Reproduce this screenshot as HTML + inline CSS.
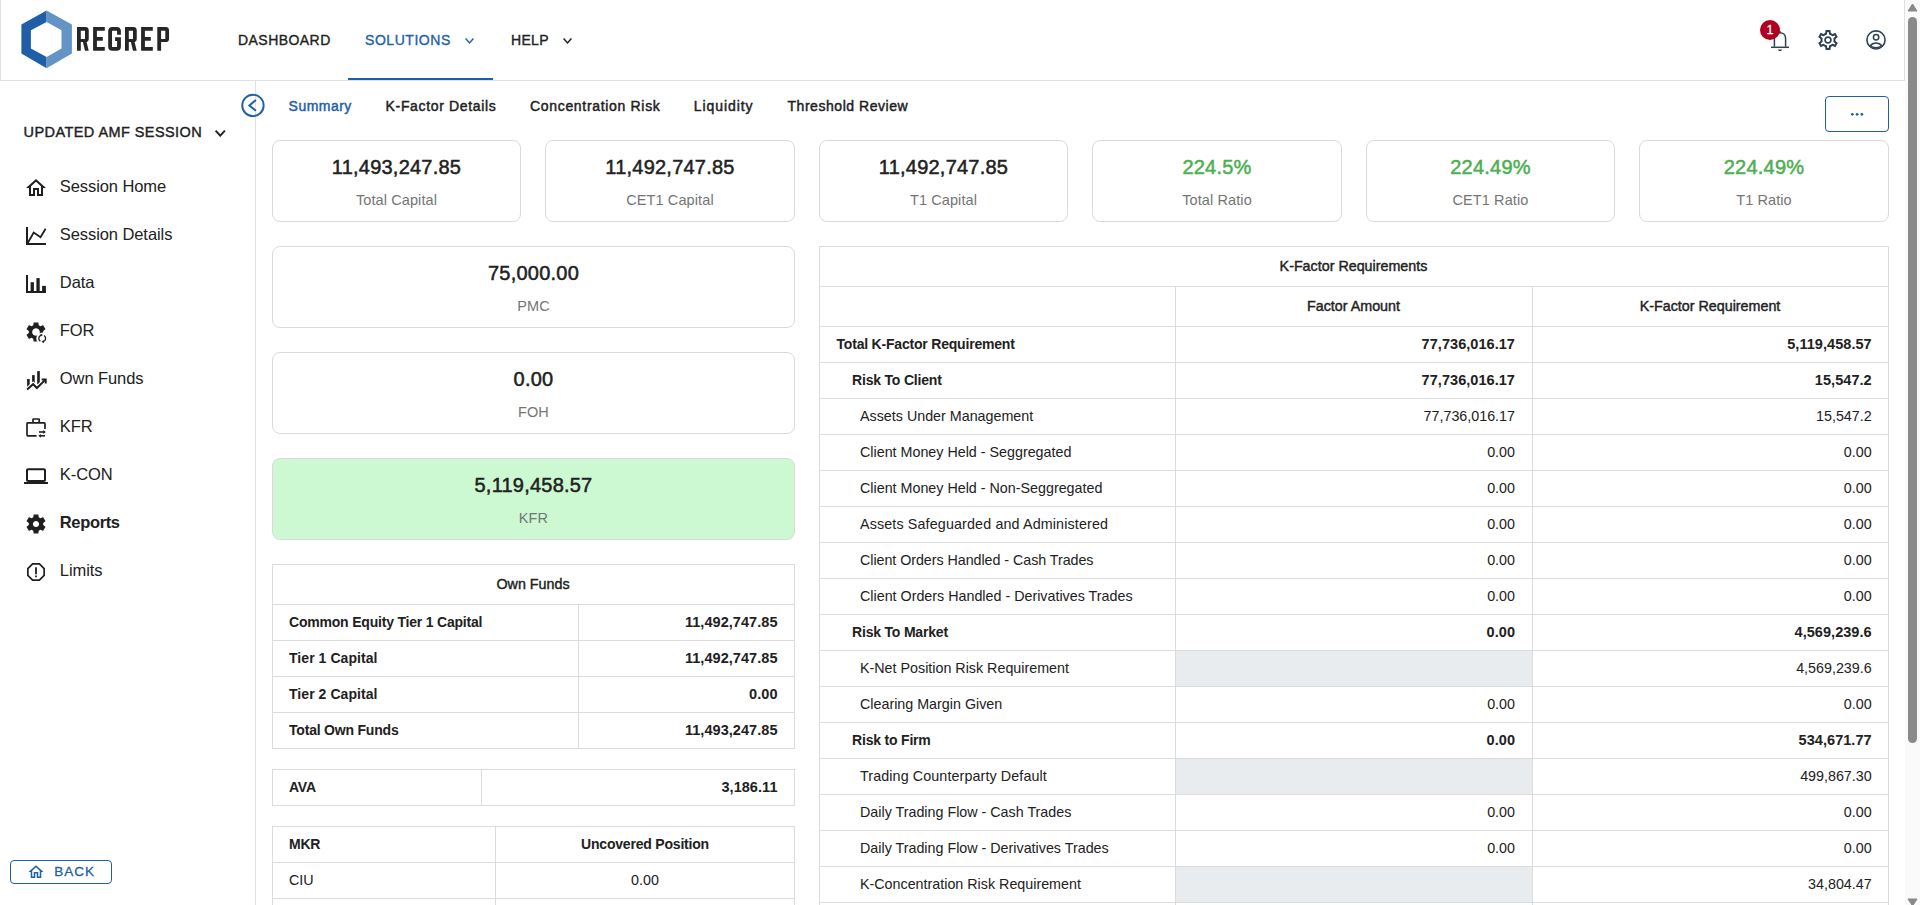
<!DOCTYPE html>
<html><head><meta charset="utf-8"><title>RegRep</title>
<style>
*{box-sizing:border-box;margin:0;padding:0}
html,body{width:1920px;height:905px;overflow:hidden;background:#fff;font-family:"Liberation Sans", sans-serif;color:#212121}
.abs{position:absolute}
.t{position:absolute;white-space:nowrap;line-height:1}
.hdr{position:absolute;left:0;top:0;width:1905px;height:81px;border:1px solid #e0e0e0;border-top:none;background:#fff}
.nav{font-size:14px;letter-spacing:0.45px;-webkit-text-stroke:0.35px currentColor}
.side{font-size:16.5px;letter-spacing:-0.08px}
.tab{font-size:14px;-webkit-text-stroke:0.45px currentColor}
.card{position:absolute;border:1px solid #dadada;border-radius:8px;background:#fff}
.cv{position:absolute;left:0;right:0;text-align:center;font-size:20px;letter-spacing:0.22px;line-height:1;-webkit-text-stroke:0.5px currentColor}
.cl{position:absolute;left:0;right:0;text-align:center;font-size:14.5px;letter-spacing:0.1px;color:#757575;line-height:1}
.tbl{position:absolute;border:1px solid #dcdcdc;}
.row{position:absolute;left:0;right:0;border-top:1px solid #dcdcdc}
.cell{position:absolute;top:0;bottom:0;font-size:14px;line-height:1;white-space:nowrap}
.vl{position:absolute;top:0;bottom:0;width:1px;background:#dcdcdc}
.b{font-weight:bold;font-size:14px;letter-spacing:-0.2px}
.r{font-size:14.3px}
.bn{font-weight:bold;font-size:14.5px;letter-spacing:0.05px}
.m{font-size:14.3px;-webkit-text-stroke:0.4px #212121}
</style></head><body>

<div class="hdr"></div>
<svg class="abs" style="left:0;top:0" width="200" height="80" viewBox="0 0 200 80">
<polygon points="46.6,10.4 46.6,21.9 30.9,30.2 30.9,48.4 46.6,57.1 46.6,68.2 21.4,53.6 21.4,24.5" fill="#1f5fa8"/>
<polygon points="46.6,10.4 71.9,24.5 71.9,53.6 46.6,68.2 46.6,57.1 61.5,48.4 61.5,30.2 46.6,21.9" fill="#6494c6"/>
<g fill="#262626"><path fill-rule="evenodd" d="M77,27.05 H85.3 Q88.75,27.05 88.75,30.5 V38.7 Q88.75,42.1 85.3,42.1 H80.8 V50.7 H77 Z M80.8,30.8 V38.9 H85.0 V30.8 Z"/><polygon points="82.9,42 86.6,42 88.75,50.7 85.0,50.7"/><path d="M93.1,27.05 H104.8 V30.8 H96.9 V37.1 H102.8 V40.7 H96.9 V46.9 H104.8 V50.7 H93.1 Z"/><path d="M119,34.8 V31.3 Q119,28.95 116.6,28.95 H112.5 Q110.1,28.95 110.1,31.3 V46.4 Q110.1,48.8 112.5,48.8 H116.6 Q119,48.8 119,46.4 V39.2 H115.1" fill="none" stroke="#262626" stroke-width="3.8"/><path fill-rule="evenodd" d="M125,27.05 H133.3 Q136.75,27.05 136.75,30.5 V38.7 Q136.75,42.1 133.3,42.1 H128.8 V50.7 H125 Z M128.8,30.8 V38.9 H133.0 V30.8 Z"/><polygon points="130.9,42 134.6,42 136.75,50.7 133.0,50.7"/><path d="M141.1,27.05 H152.8 V30.8 H144.9 V37.1 H150.8 V40.7 H144.9 V46.9 H152.8 V50.7 H141.1 Z"/><path fill-rule="evenodd" d="M157.3,27.05 H165.6 Q169.05,27.05 169.05,30.5 V38.7 Q169.05,42.1 165.6,42.1 H161.1 V50.7 H157.3 Z M161.1,30.8 V38.9 H165.3 V30.8 Z"/></g>
</svg>
<div class="t nav" style="left:238px;top:33.05px;color:#212121">DASHBOARD</div>
<div class="t nav" style="left:365px;top:33.05px;color:#1e5fa9;letter-spacing:0.55px">SOLUTIONS</div>
<svg class="abs" style="left:464.2px;top:37.4px" width="11" height="7.6" viewBox="-1 -1 11 7.6"><polyline points="0.6,0.6 4.5,5.0 8.4,0.6" fill="none" stroke="#1e5fa9" stroke-width="1.5"/></svg>
<div class="t nav" style="left:511px;top:33.05px;color:#212121;letter-spacing:0.3px">HELP</div>
<svg class="abs" style="left:562.4px;top:37.4px" width="11" height="7.6" viewBox="-1 -1 11 7.6"><polyline points="0.6,0.6 4.5,5.0 8.4,0.6" fill="none" stroke="#212121" stroke-width="1.5"/></svg>
<div class="abs" style="left:348px;top:78px;width:145px;height:2px;background:#1e5fa9"></div>
<svg class="abs" style="left:1768px;top:28px" width="24" height="26" viewBox="0 0 24 26">
<path d="M6.4,18.8 V10.6 C6.4,7.2 8.8,4.7 12,4.7 C15.2,4.7 17.6,7.2 17.6,10.6 V18.8" fill="none" stroke="#2e4152" stroke-width="1.5"/>
<line x1="3" y1="19.3" x2="21" y2="19.3" stroke="#2e4152" stroke-width="1.5"/>
<path d="M10,21.4 H14 C13.8,22.6 13,23.1 12,23.1 C11,23.1 10.2,22.6 10,21.4 Z" fill="#2e4152"/>
<path d="M11,4.8 C11,3.6 11.5,2.8 12,2.8 C12.5,2.8 13,3.6 13,4.8 Z" fill="#2e4152"/>
</svg>
<div class="abs" style="left:1760px;top:20px;width:20px;height:20px;border-radius:50%;background:#b0001f"></div>
<div class="t" style="left:1760px;top:24.3px;width:20px;text-align:center;font-size:12.5px;color:#fff;-webkit-text-stroke:0.3px #fff">1</div>
<svg class="abs" style="left:1816px;top:28px" width="24" height="24" viewBox="0 0 24 24"><path fill-rule="evenodd" d="M19.43 12.98c.04-.32.07-.64.07-.98 0-.34-.03-.66-.07-.98l2.11-1.65c.19-.15.24-.42.12-.64l-2-3.46c-.09-.16-.26-.25-.44-.25-.06 0-.12.01-.17.03l-2.49 1c-.52-.4-1.08-.73-1.69-.98l-.38-2.65C14.46 2.18 14.25 2 14 2h-4c-.25 0-.46.18-.49.42l-.38 2.65c-.61.25-1.17.59-1.690.98l-2.49-1c-.06-.02-.12-.03-.18-.03-.17 0-.34.09-.43.25l-2 3.46c-.13.22-.07.49.12.64l2.11 1.65c-.04.32-.07.65-.07.98 0 .33.03.66.07.98l-2.11 1.65c-.19.15-.24.42-.12.64l2 3.46c.09.16.26.25.44.25.06 0 .12-.01.17-.03l2.49-1c.52.4 1.080.73 1.69.98l.38 2.65c.03.24.24.42.49.42h4c.25 0 .46-.18.49-.42l.38-2.65c.61-.25 1.17-.59 1.69-.98l2.49 1c.06.02.12.03.18.03.17 0 .34-.09.43-.25l2-3.46c.12-.22.07-.49-.12-.64l-2.11-1.65zm-1.98-1.71c.04.31.05.52.05.73 0 .21-.02.43-.05.73l-.14 1.13.89.7 1.08.84-.7 1.21-1.27-.51-1.04-.42-.9.68c-.43.32-.84.56-1.25.73l-1.06.43-.16 1.13-.2 1.35h-1.4l-.19-1.35-.16-1.13-1.06-.43c-.43-.18-.83-.41-1.23-.71l-.91-.7-1.06.43-1.27.51-.7-1.21 1.08-.84.89-.7-.14-1.13c-.03-.31-.05-.54-.05-.74s.02-.43.05-.73l.14-1.13-.89-.7-1.08-.84.7-1.21 1.27.51 1.04.42.9-.68c.43-.32.84-.56 1.25-.73l1.06-.43.16-1.13.2-1.35h1.39l.19 1.35.16 1.13 1.06.43c.43.18.83.41 1.23.71l.91.7 1.06-.43 1.27-.51.7 1.21-1.07.85-.89.7.14 1.13zM12 8.2c-2.1 0-3.8 1.7-3.8 3.8s1.7 3.8 3.8 3.8 3.8-1.7 3.8-3.8-1.7-3.8-3.8-3.8zm0 5.9c-1.16 0-2.1-.94-2.1-2.1s.94-2.1 2.1-2.1 2.1.94 2.1 2.1-.94 2.1-2.1 2.1z" fill="#2e4152"/></svg>
<svg class="abs" style="left:1864px;top:28px" width="24" height="24" viewBox="0 0 24 24" fill="none" stroke="#2e4152">
<circle cx="12" cy="11.9" r="9.05" stroke-width="1.6"/>
<circle cx="12.1" cy="9.3" r="2.7" stroke-width="1.5"/>
<path d="M6.2,17.8 C7.6,15.9 9.7,14.95 12,14.95 C14.3,14.95 16.4,15.9 17.8,17.8" stroke-width="1.5"/>
<path d="M6.5,17.6 C8.6,20.2 15.4,20.2 17.5,17.6" stroke-width="1.3"/>
</svg>
<div class="abs" style="left:1905px;top:0;width:15px;height:905px;background:#fafafa"></div>
<div class="abs" style="left:1908px;top:17px;width:9px;height:726px;border-radius:4.5px;background:#8a8a8a"></div>
<svg class="abs" style="left:1905px;top:0" width="15" height="15" viewBox="0 0 15 15"><polygon points="7.5,4 12,11 3,11" fill="#8a8a8a" stroke="#8a8a8a" stroke-width="1" stroke-linejoin="round"/></svg>
<svg class="abs" style="left:1905px;top:894px" width="15" height="15" viewBox="0 0 15 15"><polygon points="3,5 12,5 7.5,12" fill="#8a8a8a" stroke="#8a8a8a" stroke-width="1" stroke-linejoin="round"/></svg>
<div class="abs" style="left:255px;top:81px;width:1px;height:824px;background:#e0e0e0"></div>
<div class="t" style="left:23.6px;top:125.1px;font-size:14.5px;letter-spacing:0.42px;-webkit-text-stroke:0.4px #212121">UPDATED AMF SESSION</div>
<svg class="abs" style="left:214.2px;top:129.2px" width="12.5" height="8.3" viewBox="-1 -1 12.5 8.3"><polyline points="0.6,0.6 5.25,5.7 9.9,0.6" fill="none" stroke="#212121" stroke-width="1.9"/></svg>
<div class="t side" style="left:59.8px;top:178.1px;">Session Home</div>
<div class="t side" style="left:59.8px;top:226.1px;">Session Details</div>
<div class="t side" style="left:59.8px;top:274.1px;">Data</div>
<div class="t side" style="left:59.8px;top:322.1px;">FOR</div>
<div class="t side" style="left:59.8px;top:370.1px;">Own Funds</div>
<div class="t side" style="left:59.8px;top:418.1px;">KFR</div>
<div class="t side" style="left:59.8px;top:466.1px;">K-CON</div>
<div class="t side" style="left:59.8px;top:514.1px;font-weight:bold;letter-spacing:-0.35px;">Reports</div>
<div class="t side" style="left:59.8px;top:562.1px;">Limits</div>
<svg class="abs" style="left:24px;top:176px" width="24" height="24" viewBox="0 0 24 24"><path d="M12 5.69l5 4.5V18h-2v-6H9v6H7v-7.81l5-4.5M12 3L2 12h3v8h6v-6h2v6h6v-8h3L12 3z" fill="#1f1f1f"/></svg>
<svg class="abs" style="left:24px;top:224px" width="24" height="24" viewBox="0 0 24 24"><path d="M3,3 V20 H22" fill="none" stroke="#1f1f1f" stroke-width="2"/><polyline points="3.6,19.3 9.7,8.6 16.5,13.3 21.6,4.8" fill="none" stroke="#1f1f1f" stroke-width="1.8" stroke-linejoin="miter"/></svg>
<svg class="abs" style="left:24px;top:272px" width="24" height="24" viewBox="0 0 24 24"><path d="M3,3 V20 H22" fill="none" stroke="#1f1f1f" stroke-width="2"/><rect x="6.6" y="10.2" width="3.3" height="9" fill="#1f1f1f"/><rect x="12.4" y="6.1" width="3.3" height="13" fill="#1f1f1f"/><rect x="18.1" y="13.9" width="3.8" height="5.2" fill="#1f1f1f"/></svg>
<svg class="abs" style="left:24px;top:320px" width="24" height="24" viewBox="0 0 24 24"><path fill-rule="evenodd" d="M19.14 12.94c.04-.3.06-.61.06-.94 0-.32-.02-.64-.07-.94l2.03-1.58c.18-.14.23-.41.12-.61l-1.92-3.32c-.12-.22-.37-.29-.59-.22l-2.39.96c-.5-.38-1.03-.7-1.62-.94l-.36-2.54c-.04-.24-.24-.41-.48-.41h-3.84c-.24 0-.43.17-.47.41l-.36 2.54c-.59.24-1.13.57-1.62.94l-2.39-.96c-.22-.08-.47 0-.59.22L2.74 8.87c-.12.21-.08.47.12.61l2.03 1.58c-.05.3-.09.63-.09.94s.02.64.07.94l-2.03 1.58c-.18.14-.23.41-.12.61l1.92 3.32c.12.22.37.29.59.22l2.39-.96c.5.38 1.03.7 1.62.94l.36 2.54c.05.24.24.41.48.41h3.84c.24 0 .44-.17.47-.41l.36-2.54c.59-.24 1.13-.56 1.62-.94l2.39.96c.22.08.47 0 .59-.22l1.92-3.32c.12-.22.07-.47-.12-.61l-2.01-1.58zM12 15.6c-1.98 0-3.6-1.62-3.6-3.6s1.62-3.6 3.6-3.6 3.6 1.62 3.6 3.6-1.62 3.6-3.6 3.6z" fill="#1f1f1f"/><circle cx="18.2" cy="18.4" r="5.9" fill="#fff"/><circle cx="12" cy="12" r="3.6" fill="#fff"/><path d="M17.2,15.1 A3.5,3.5 0 0 0 16.3,21.3" fill="none" stroke="#1f1f1f" stroke-width="1.35"/><path d="M19.2,21.7 A3.5,3.5 0 0 0 20.1,15.5" fill="none" stroke="#1f1f1f" stroke-width="1.35"/><polygon points="16.6,13.6 18.9,15.1 16.6,16.7" fill="#1f1f1f"/><polygon points="19.8,23.2 17.5,21.7 19.8,20.1" fill="#1f1f1f"/></svg>
<svg class="abs" style="left:24px;top:368px" width="24" height="24" viewBox="0 0 24 24"><rect x="3.1" y="11" width="2.6" height="8" fill="#1f1f1f"/><rect x="8.1" y="7.1" width="2.6" height="8" fill="#1f1f1f"/><rect x="13.2" y="3.1" width="2.6" height="13" fill="#1f1f1f"/><polyline points="2.4,22 9.1,16.2 12.9,20 21,12.1" fill="none" stroke="#fff" stroke-width="4.2"/><polyline points="3.1,21.4 9.1,16.2 12.9,20 21.2,11.9" fill="none" stroke="#1f1f1f" stroke-width="2"/><polyline points="17.7,11.5 21.7,11.5 21.7,15.4" fill="none" stroke="#1f1f1f" stroke-width="2"/></svg>
<svg class="abs" style="left:24px;top:416px" width="24" height="24" viewBox="0 0 24 24"><path d="M12.6,19.8 H3.8 C3.3,19.8 3,19.5 3,19 V7.7 C3,7.2 3.3,6.9 3.8,6.9 H20.2 C20.7,6.9 21,7.2 21,7.7 V12.9" fill="none" stroke="#1f1f1f" stroke-width="1.7"/><path d="M9,6.9 V3.6 C9,3.2 9.2,3 9.6,3 H14.6 C15,3 15.2,3.2 15.2,3.6 V6.9" fill="none" stroke="#1f1f1f" stroke-width="1.7"/><line x1="15" y1="16" x2="20" y2="16" stroke="#1f1f1f" stroke-width="1.6"/><polygon points="19.3,14.1 21.8,16 19.3,17.9" fill="#1f1f1f"/><line x1="16" y1="19.8" x2="21" y2="19.8" stroke="#1f1f1f" stroke-width="1.6"/><polygon points="16.8,17.9 14.3,19.8 16.8,21.7" fill="#1f1f1f"/></svg>
<svg class="abs" style="left:24px;top:464px" width="24" height="24" viewBox="0 0 24 24"><path d="M20 18c1.1 0 1.99-.9 1.99-2L22 6c0-1.1-.9-2-2-2H4c-1.1 0-2 .9-2 2v10c0 1.1.9 2 2 2H0v2h24v-2h-4zM4 6h16v10H4V6z" fill="#1f1f1f" transform="translate(0,0.3) scale(1,0.98)"/></svg>
<svg class="abs" style="left:24px;top:512px" width="24" height="24" viewBox="0 0 24 24"><path fill-rule="evenodd" d="M19.14 12.94c.04-.3.06-.61.06-.94 0-.32-.02-.64-.07-.94l2.03-1.58c.18-.14.23-.41.12-.61l-1.92-3.32c-.12-.22-.37-.29-.59-.22l-2.39.96c-.5-.38-1.03-.7-1.62-.94l-.36-2.54c-.04-.24-.24-.41-.48-.41h-3.84c-.24 0-.43.17-.47.41l-.36 2.54c-.59.24-1.13.57-1.62.94l-2.39-.96c-.22-.08-.47 0-.59.22L2.74 8.87c-.12.21-.08.47.12.61l2.03 1.58c-.05.3-.09.63-.09.94s.02.64.07.94l-2.03 1.58c-.18.14-.23.41-.12.61l1.92 3.32c.12.22.37.29.59.22l2.39-.96c.5.38 1.03.7 1.62.94l.36 2.54c.05.24.24.41.48.41h3.84c.24 0 .44-.17.47-.41l.36-2.54c.59-.24 1.13-.56 1.62-.94l2.39.96c.22.08.47 0 .59-.22l1.92-3.32c.12-.22.07-.47-.12-.61l-2.01-1.58zM12 15.1c-1.71 0-3.1-1.39-3.1-3.1s1.39-3.1 3.1-3.1 3.1 1.39 3.1 3.1-1.39 3.1-3.1 3.1z" fill="#1f1f1f"/></svg>
<svg class="abs" style="left:24px;top:560px" width="24" height="24" viewBox="0 0 24 24"><path d="M15.73 3H8.27L3 8.27v7.46L8.27 21h7.46L21 15.73V8.27L15.73 3zM19.3 15.03L15.03 19.3H8.97L4.7 15.03V8.97L8.97 4.7h6.06L19.3 8.97v6.06zM11.1 7.3h1.8v6.9h-1.8zm0 8.1h1.8v1.8h-1.8z" fill="#1f1f1f"/></svg>
<svg class="abs" style="left:27px;top:863px" width="18" height="18" viewBox="0 0 24 24"><path d="M12 5.69l5 4.5V18h-2v-6H9v6H7v-7.81l5-4.5M12 3L2 12h3v8h6v-6h2v6h6v-8h3L12 3z" fill="#1e5fa9"/></svg>
<div class="abs" style="left:10px;top:860px;width:102px;height:24px;border:1px solid #1e5fa9;border-radius:4px"></div>
<div class="t" style="left:54.3px;top:865px;font-size:13.5px;letter-spacing:0.95px;color:#1e5fa9;-webkit-text-stroke:0.3px #1e5fa9">BACK</div>
<svg class="abs" style="left:240px;top:93px" width="25" height="25" viewBox="0 0 25 25"><circle cx="12.95" cy="12.4" r="10.7" fill="none" stroke="#1e5fa9" stroke-width="1.9"/><polyline points="15.9,7 9.4,12.4 15.9,17.8" fill="none" stroke="#1e5fa9" stroke-width="2"/></svg>
<div class="t tab" style="left:288.59999999999997px;top:99.4px;color:#1e5fa9;letter-spacing:0.47px">Summary</div>
<div class="t tab" style="left:385.59999999999997px;top:99.4px;color:#212121;letter-spacing:0.65px">K-Factor Details</div>
<div class="t tab" style="left:530.0px;top:99.4px;color:#212121;letter-spacing:0.68px">Concentration Risk</div>
<div class="t tab" style="left:693.8000000000001px;top:99.4px;color:#212121;letter-spacing:0.92px">Liquidity</div>
<div class="t tab" style="left:787.5px;top:99.4px;color:#212121;letter-spacing:0.54px">Threshold Review</div>
<div class="abs" style="left:1825px;top:96px;width:64px;height:36px;border:1px solid #1e5fa9;border-radius:4px"></div>
<svg class="abs" style="left:1848px;top:111px" width="18" height="7" viewBox="0 0 18 7"><circle cx="4.3" cy="3.3" r="1.35" fill="#1e5fa9"/><circle cx="9.1" cy="3.3" r="1.35" fill="#1e5fa9"/><circle cx="13.9" cy="3.3" r="1.35" fill="#1e5fa9"/></svg>
<div class="card" style="left:272px;top:140px;width:249px;height:82px"><div class="cv" style="top:16.3px;color:#212121">11,493,247.85</div><div class="cl" style="top:51.7px">Total Capital</div></div>
<div class="card" style="left:545px;top:140px;width:250px;height:82px"><div class="cv" style="top:16.3px;color:#212121">11,492,747.85</div><div class="cl" style="top:51.7px">CET1 Capital</div></div>
<div class="card" style="left:819px;top:140px;width:249px;height:82px"><div class="cv" style="top:16.3px;color:#212121">11,492,747.85</div><div class="cl" style="top:51.7px">T1 Capital</div></div>
<div class="card" style="left:1092px;top:140px;width:250px;height:82px"><div class="cv" style="top:16.3px;color:#4caf50">224.5%</div><div class="cl" style="top:51.7px">Total Ratio</div></div>
<div class="card" style="left:1366px;top:140px;width:249px;height:82px"><div class="cv" style="top:16.3px;color:#4caf50">224.49%</div><div class="cl" style="top:51.7px">CET1 Ratio</div></div>
<div class="card" style="left:1639px;top:140px;width:250px;height:82px"><div class="cv" style="top:16.3px;color:#4caf50">224.49%</div><div class="cl" style="top:51.7px">T1 Ratio</div></div>
<div class="card" style="left:272px;top:246px;width:523px;height:82px;background:#fff"><div class="cv" style="top:16.3px">75,000.00</div><div class="cl" style="top:51.7px">PMC</div></div>
<div class="card" style="left:272px;top:352px;width:523px;height:82px;background:#fff"><div class="cv" style="top:16.3px">0.00</div><div class="cl" style="top:51.7px">FOH</div></div>
<div class="card" style="left:272px;top:458px;width:523px;height:82px;background:#ccf9d1"><div class="cv" style="top:16.3px">5,119,458.57</div><div class="cl" style="top:51.7px">KFR</div></div>
<div class="abs" style="left:272px;top:564px;width:523px;height:1px;background:#dcdcdc"></div>
<div class="abs" style="left:272px;top:604px;width:523px;height:1px;background:#dcdcdc"></div>
<div class="abs" style="left:272px;top:640px;width:523px;height:1px;background:#dcdcdc"></div>
<div class="abs" style="left:272px;top:676px;width:523px;height:1px;background:#dcdcdc"></div>
<div class="abs" style="left:272px;top:712px;width:523px;height:1px;background:#dcdcdc"></div>
<div class="abs" style="left:272px;top:748px;width:523px;height:1px;background:#dcdcdc"></div>
<div class="abs" style="left:272px;top:564px;width:1px;height:185px;background:#dcdcdc"></div>
<div class="abs" style="left:794px;top:564px;width:1px;height:185px;background:#dcdcdc"></div>
<div class="abs" style="left:578px;top:604px;width:1px;height:145px;background:#dcdcdc"></div>
<div class="t m" style="left:233px;width:600px;text-align:center;top:576.90px;">Own Funds</div>
<div class="t b" style="left:289px;top:614.85px;">Common Equity Tier 1 Capital</div>
<div class="t bn" style="left:277.5px;width:500px;text-align:right;top:615.23px;">11,492,747.85</div>
<div class="t b" style="left:289px;top:650.85px;letter-spacing:0.06px">Tier 1 Capital</div>
<div class="t bn" style="left:277.5px;width:500px;text-align:right;top:651.23px;">11,492,747.85</div>
<div class="t b" style="left:289px;top:686.85px;letter-spacing:0.06px">Tier 2 Capital</div>
<div class="t bn" style="left:277.5px;width:500px;text-align:right;top:687.23px;">0.00</div>
<div class="t b" style="left:289px;top:722.85px;">Total Own Funds</div>
<div class="t bn" style="left:277.5px;width:500px;text-align:right;top:723.23px;">11,493,247.85</div>
<div class="abs" style="left:272px;top:769px;width:523px;height:1px;background:#dcdcdc"></div>
<div class="abs" style="left:272px;top:805px;width:523px;height:1px;background:#dcdcdc"></div>
<div class="abs" style="left:272px;top:769px;width:1px;height:37px;background:#dcdcdc"></div>
<div class="abs" style="left:794px;top:769px;width:1px;height:37px;background:#dcdcdc"></div>
<div class="abs" style="left:481px;top:769px;width:1px;height:37px;background:#dcdcdc"></div>
<div class="t b" style="left:289px;top:779.85px;">AVA</div>
<div class="t bn" style="left:277.5px;width:500px;text-align:right;top:780.23px;">3,186.11</div>
<div class="abs" style="left:272px;top:826px;width:523px;height:1px;background:#dcdcdc"></div>
<div class="abs" style="left:272px;top:862px;width:523px;height:1px;background:#dcdcdc"></div>
<div class="abs" style="left:272px;top:898px;width:523px;height:1px;background:#dcdcdc"></div>
<div class="abs" style="left:272px;top:826px;width:1px;height:80px;background:#dcdcdc"></div>
<div class="abs" style="left:794px;top:826px;width:1px;height:80px;background:#dcdcdc"></div>
<div class="abs" style="left:495px;top:826px;width:1px;height:80px;background:#dcdcdc"></div>
<div class="t b" style="left:289px;top:837.15px;">MKR</div>
<div class="t b" style="left:345px;width:600px;text-align:center;top:837.15px;">Uncovered Position</div>
<div class="t r" style="left:289px;top:872.60px;">CIU</div>
<div class="t r" style="left:345px;width:600px;text-align:center;top:872.60px;">0.00</div>
<div class="abs" style="left:1176px;top:651px;width:356px;height:35px;background:#e9ecef"></div>
<div class="abs" style="left:1176px;top:759px;width:356px;height:35px;background:#e9ecef"></div>
<div class="abs" style="left:1176px;top:867px;width:356px;height:35px;background:#e9ecef"></div>
<div class="abs" style="left:819px;top:246px;width:1070px;height:1px;background:#dcdcdc"></div>
<div class="abs" style="left:819px;top:286px;width:1070px;height:1px;background:#dcdcdc"></div>
<div class="abs" style="left:819px;top:326px;width:1070px;height:1px;background:#dcdcdc"></div>
<div class="abs" style="left:819px;top:362px;width:1070px;height:1px;background:#dcdcdc"></div>
<div class="abs" style="left:819px;top:398px;width:1070px;height:1px;background:#dcdcdc"></div>
<div class="abs" style="left:819px;top:434px;width:1070px;height:1px;background:#dcdcdc"></div>
<div class="abs" style="left:819px;top:470px;width:1070px;height:1px;background:#dcdcdc"></div>
<div class="abs" style="left:819px;top:506px;width:1070px;height:1px;background:#dcdcdc"></div>
<div class="abs" style="left:819px;top:542px;width:1070px;height:1px;background:#dcdcdc"></div>
<div class="abs" style="left:819px;top:578px;width:1070px;height:1px;background:#dcdcdc"></div>
<div class="abs" style="left:819px;top:614px;width:1070px;height:1px;background:#dcdcdc"></div>
<div class="abs" style="left:819px;top:650px;width:1070px;height:1px;background:#dcdcdc"></div>
<div class="abs" style="left:819px;top:686px;width:1070px;height:1px;background:#dcdcdc"></div>
<div class="abs" style="left:819px;top:722px;width:1070px;height:1px;background:#dcdcdc"></div>
<div class="abs" style="left:819px;top:758px;width:1070px;height:1px;background:#dcdcdc"></div>
<div class="abs" style="left:819px;top:794px;width:1070px;height:1px;background:#dcdcdc"></div>
<div class="abs" style="left:819px;top:830px;width:1070px;height:1px;background:#dcdcdc"></div>
<div class="abs" style="left:819px;top:866px;width:1070px;height:1px;background:#dcdcdc"></div>
<div class="abs" style="left:819px;top:902px;width:1070px;height:1px;background:#dcdcdc"></div>
<div class="abs" style="left:819px;top:246px;width:1px;height:660px;background:#dcdcdc"></div>
<div class="abs" style="left:1888px;top:246px;width:1px;height:660px;background:#dcdcdc"></div>
<div class="abs" style="left:1175px;top:286px;width:1px;height:620px;background:#dcdcdc"></div>
<div class="abs" style="left:1532px;top:286px;width:1px;height:620px;background:#dcdcdc"></div>
<div class="t m" style="left:1053.5px;width:600px;text-align:center;top:258.90px;">K-Factor Requirements</div>
<div class="t m" style="left:1053.5px;width:600px;text-align:center;top:299.00px;">Factor Amount</div>
<div class="t m" style="left:1410.0px;width:600px;text-align:center;top:299.00px;">K-Factor Requirement</div>
<div class="t b" style="left:836.5px;top:336.85px;">Total K-Factor Requirement</div>
<div class="t bn" style="left:1015px;width:500px;text-align:right;top:337.23px;">77,736,016.17</div>
<div class="t bn" style="left:1371.7px;width:500px;text-align:right;top:337.23px;">5,119,458.57</div>
<div class="t b" style="left:852.1px;top:372.85px;">Risk To Client</div>
<div class="t bn" style="left:1015px;width:500px;text-align:right;top:373.23px;">77,736,016.17</div>
<div class="t bn" style="left:1371.7px;width:500px;text-align:right;top:373.23px;">15,547.2</div>
<div class="t r" style="left:860px;top:408.60px;">Assets Under Management</div>
<div class="t r" style="left:1015px;width:500px;text-align:right;top:408.60px;">77,736,016.17</div>
<div class="t r" style="left:1371.7px;width:500px;text-align:right;top:408.60px;">15,547.2</div>
<div class="t r" style="left:860px;top:444.60px;">Client Money Held - Seggregated</div>
<div class="t r" style="left:1015px;width:500px;text-align:right;top:444.60px;">0.00</div>
<div class="t r" style="left:1371.7px;width:500px;text-align:right;top:444.60px;">0.00</div>
<div class="t r" style="left:860px;top:480.60px;">Client Money Held - Non-Seggregated</div>
<div class="t r" style="left:1015px;width:500px;text-align:right;top:480.60px;">0.00</div>
<div class="t r" style="left:1371.7px;width:500px;text-align:right;top:480.60px;">0.00</div>
<div class="t r" style="left:860px;top:516.60px;letter-spacing:0.14px">Assets Safeguarded and Administered</div>
<div class="t r" style="left:1015px;width:500px;text-align:right;top:516.60px;">0.00</div>
<div class="t r" style="left:1371.7px;width:500px;text-align:right;top:516.60px;">0.00</div>
<div class="t r" style="left:860px;top:552.60px;letter-spacing:-0.05px">Client Orders Handled - Cash Trades</div>
<div class="t r" style="left:1015px;width:500px;text-align:right;top:552.60px;">0.00</div>
<div class="t r" style="left:1371.7px;width:500px;text-align:right;top:552.60px;">0.00</div>
<div class="t r" style="left:860px;top:588.60px;">Client Orders Handled - Derivatives Trades</div>
<div class="t r" style="left:1015px;width:500px;text-align:right;top:588.60px;">0.00</div>
<div class="t r" style="left:1371.7px;width:500px;text-align:right;top:588.60px;">0.00</div>
<div class="t b" style="left:852.1px;top:624.85px;">Risk To Market</div>
<div class="t bn" style="left:1015px;width:500px;text-align:right;top:625.23px;">0.00</div>
<div class="t bn" style="left:1371.7px;width:500px;text-align:right;top:625.23px;">4,569,239.6</div>
<div class="t r" style="left:860px;top:660.60px;">K-Net Position Risk Requirement</div>
<div class="t r" style="left:1371.7px;width:500px;text-align:right;top:660.60px;">4,569,239.6</div>
<div class="t r" style="left:860px;top:696.60px;">Clearing Margin Given</div>
<div class="t r" style="left:1015px;width:500px;text-align:right;top:696.60px;">0.00</div>
<div class="t r" style="left:1371.7px;width:500px;text-align:right;top:696.60px;">0.00</div>
<div class="t b" style="left:852.1px;top:732.85px;">Risk to Firm</div>
<div class="t bn" style="left:1015px;width:500px;text-align:right;top:733.23px;">0.00</div>
<div class="t bn" style="left:1371.7px;width:500px;text-align:right;top:733.23px;">534,671.77</div>
<div class="t r" style="left:860px;top:768.60px;letter-spacing:0.11px">Trading Counterparty Default</div>
<div class="t r" style="left:1371.7px;width:500px;text-align:right;top:768.60px;">499,867.30</div>
<div class="t r" style="left:860px;top:804.60px;">Daily Trading Flow - Cash Trades</div>
<div class="t r" style="left:1015px;width:500px;text-align:right;top:804.60px;">0.00</div>
<div class="t r" style="left:1371.7px;width:500px;text-align:right;top:804.60px;">0.00</div>
<div class="t r" style="left:860px;top:840.60px;">Daily Trading Flow - Derivatives Trades</div>
<div class="t r" style="left:1015px;width:500px;text-align:right;top:840.60px;">0.00</div>
<div class="t r" style="left:1371.7px;width:500px;text-align:right;top:840.60px;">0.00</div>
<div class="t r" style="left:860px;top:876.60px;">K-Concentration Risk Requirement</div>
<div class="t r" style="left:1371.7px;width:500px;text-align:right;top:876.60px;">34,804.47</div>
</body></html>
